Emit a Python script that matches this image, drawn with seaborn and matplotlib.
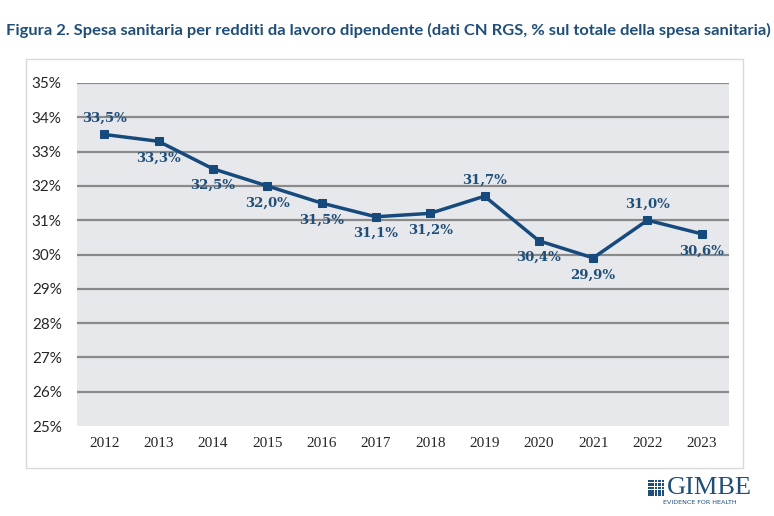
import matplotlib
matplotlib.use("Agg")
import matplotlib.pyplot as plt
import seaborn as sns
import pandas as pd
import numpy as np
from matplotlib.patches import Rectangle

years = ["2012", "2013", "2014", "2015", "2016", "2017", "2018", "2019", "2020", "2021", "2022", "2023"]
values = [33.5, 33.3, 32.5, 32.0, 31.5, 31.1, 31.2, 31.7, 30.4, 29.9, 31.0, 30.6]
label_pos = ["above", "below", "below", "below", "below", "below", "below", "above", "below", "below", "above", "below"]
yticks = [25, 26, 27, 28, 29, 30, 31, 32, 33, 34, 35]

sns.set_theme(style="white")
plt.rcParams['font.family'] = ['DejaVu Sans']

W, H = 774, 516
fig = plt.figure(figsize=(W / 100, H / 100), dpi=100)
fig.patch.set_facecolor("white")

# outer chart frame (background axes)
bg = fig.add_axes([26 / W, 1 - 468 / H, (743 - 26) / W, (468 - 59) / H], zorder=0)
bg.set_xticks([])
bg.set_yticks([])
bg.set_facecolor("white")
for s in bg.spines.values():
    s.set_color("#D9D9D9")
    s.set_linewidth(1.0)

ax = fig.add_axes([77 / W, 1 - 426 / H, (729 - 77) / W, (426 - 83) / H], zorder=1)
ax.set_facecolor("#E7E8EB")

df = pd.DataFrame({"x": np.arange(len(years)), "val": values})
line_color = "#174A7C"
sns.lineplot(data=df, x="x", y="val", ax=ax, color=line_color, linewidth=2.5,
             marker="s", markersize=6, markeredgecolor=line_color, zorder=3)

ax.set_ylim(25, 35)
ax.set_xlim(-0.5, len(years) - 0.5)
ax.set_yticks(yticks)
ax.set_yticklabels([f"{t}%" for t in yticks], family="Lato", fontsize=11, color="#262626")
ax.set_xticks(np.arange(len(years)))
ax.set_xticklabels(years, family="Liberation Serif", fontsize=11, color="#262626")
ax.tick_params(axis="y", pad=11, length=0)
ax.tick_params(axis="x", pad=8, length=0)
ax.set_xlabel("")
ax.set_ylabel("")
for s in ax.spines.values():
    s.set_visible(False)
for t in yticks:
    if t > 25:
        ax.axhline(t, color="#8A8A8A", linewidth=1.6, zorder=1)

for i, (v, p) in enumerate(zip(values, label_pos)):
    txt = f"{v:.1f}%".replace(".", ",")
    if p == "above":
        ax.annotate(txt, (i, v), xytext=(0, 7), textcoords="offset points", ha="center", va="bottom",
                    family="DejaVu Serif", fontweight="bold", fontsize=9.5, color="#1F4E79")
    else:
        ax.annotate(txt, (i, v), xytext=(0, -7.5), textcoords="offset points", ha="center", va="top",
                    family="DejaVu Serif", fontweight="bold", fontsize=9.5, color="#1F4E79")

# title
fig.text(6 / W, 1 - 30 / H, "Figura 2. Spesa sanitaria per redditi da lavoro dipendente (dati CN RGS, % sul totale della spesa sanitaria)",
         family="Lato", fontweight="bold", fontsize=11.85, color="#1F4E79", ha="left", va="center")

# logo
logo_color = "#1F4E79"
n = 5
cell = 17 / n
for r in range(n):
    for c in range(n):
        fig.patches.append(Rectangle(((648 + c * cell) / W, 1 - (496 - r * cell) / H), (cell - 0.8) / W, (cell - 0.8) / H,
                                     transform=fig.transFigure, facecolor=logo_color, edgecolor="none"))
fig.text(667 / W, 1 - 488 / H, "GIMBE", family="Liberation Serif", fontsize=19, color=logo_color,
         ha="left", va="center")
fig.text(700 / W, 1 - 503 / H, "EVIDENCE FOR HEALTH", family="DejaVu Sans", fontsize=4.6, color=logo_color,
         ha="center", va="center")

fig.savefig("out.png", dpi=100)
